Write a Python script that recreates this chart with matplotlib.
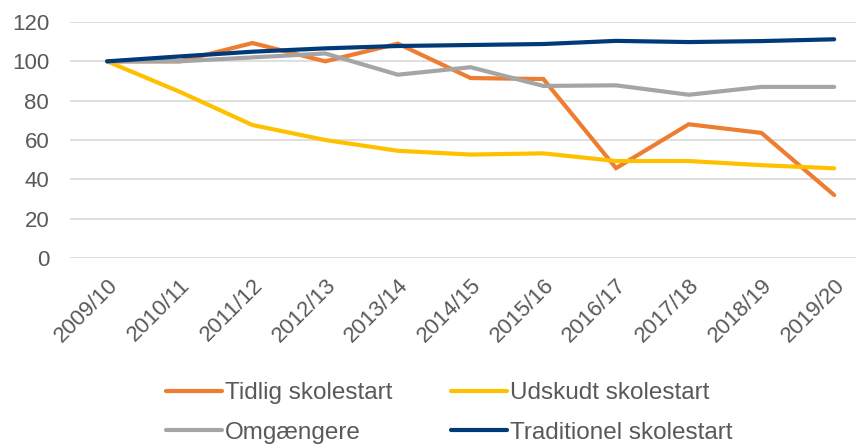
import numpy as np
from matplotlib import pyplot as plt

plt.rcParams["font.family"] = ["Liberation Sans", "DejaVu Sans"]

seasons = ["2009/10", "2010/11", "2011/12", "2012/13", "2013/14", "2014/15",
           "2015/16", "2016/17", "2017/18", "2018/19", "2019/20"]
tidlig = [100, 100, 109.3, 100, 109, 91.5, 91, 45.7, 68, 63.6, 32]
udskudt = [100, 84.5, 67.6, 60, 54.5, 52.6, 53.2, 49.3, 49.3, 47.2, 45.6]
omgaengere = [100, 100, 102, 104, 93.2, 97, 87.5, 87.8, 83, 87, 87]
traditionel = [100, 102.5, 104.9, 106.6, 107.8, 108.3, 108.8, 110.4, 109.8, 110.3, 111.2]

names = ["Tidlig skolestart", "Udskudt skolestart", "Omgængere", "Traditionel skolestart"]
colors = ["#ED7D31", "#FFC000", "#A5A5A5", "#003A78"]
series = [tidlig, udskudt, omgaengere, traditionel]

fig = plt.figure(figsize=(8.58, 4.46), dpi=100)
ax = fig.add_axes([70 / 858, 1 - 258 / 446, 786 / 858, 236 / 446])

x = np.arange(len(seasons))
lines = []
for vals, name, col in zip(series, names, colors):
    (ln,) = ax.plot(x, vals, color=col, lw=3, label=name,
                    solid_capstyle="round", solid_joinstyle="miter")
    lines.append(ln)

ax.set_ylim(0, 120)
ax.set_yticks(range(0, 121, 20))
ax.set_xlim(-0.51, 10.3)
ax.set_xticks(x)
ax.set_xticklabels(seasons, rotation=45, ha="right", rotation_mode="anchor")
ax.grid(axis="y", color="#D9D9D9", lw=1.2)
ax.set_axisbelow(True)
for s in ax.spines.values():
    s.set_visible(False)
ax.tick_params(length=0, labelsize=16, colors="#595959")
ax.tick_params(axis="y", pad=15)
ax.tick_params(axis="x", pad=12)

# column-major fill gives rows: Tidlig/Udskudt, Omgængere/Traditionel
order = [0, 2, 1, 3]
fig.legend([lines[i] for i in order], [names[i] for i in order],
           ncol=2, loc="upper left", bbox_to_anchor=(154 / 858, 1 - 370 / 446),
           frameon=False, fontsize=17.5, labelcolor="#595959", borderpad=0,
           handlelength=2.3, handletextpad=0.12, columnspacing=2.42,
           labelspacing=0.72)

fig.savefig("out.png", dpi=100)
